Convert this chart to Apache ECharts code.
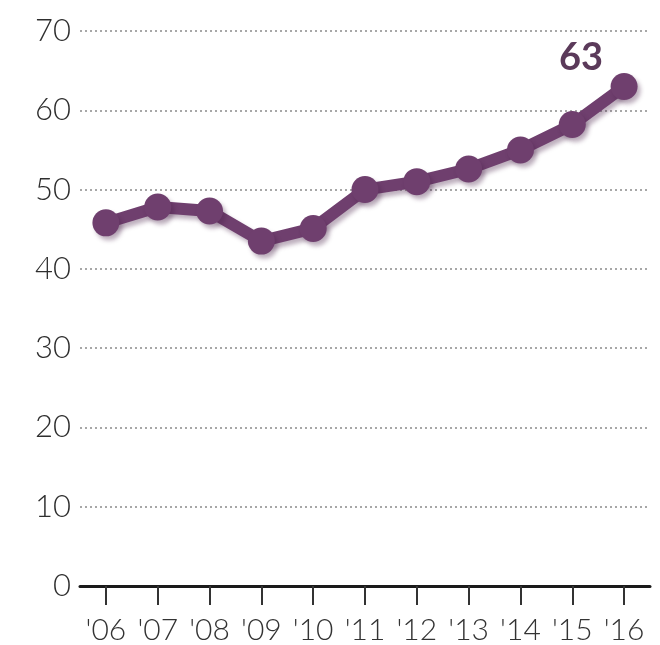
<!DOCTYPE html>
<html>
<head>
<meta charset="utf-8">
<script src="https://cdn.jsdelivr.net/npm/echarts@6/dist/echarts.min.js"></script>
<style>
html,body{margin:0;padding:0;background:#fff;}
#chart{width:660px;height:645px;}
</style>
</head>
<body>
<div id="chart"></div>
<script>
const categories = ["'06","'07","'08","'09","'10","'11","'12","'13","'14","'15","'16"];
const values = [45.8, 47.8, 47.3, 43.5, 45.1, 50.0, 51.0, 52.6, 55.0, 58.2, 63.0];
const yTicks = [0, 10, 20, 30, 40, 50, 60, 70];

const chart = echarts.init(document.getElementById('chart'));
const lineColor = '#6f3f6e';
const shadow = { shadowColor: 'rgba(70,30,70,0.35)', shadowOffsetX: 3, shadowOffsetY: 4, shadowBlur: 4 };
chart.setOption({
  animation: false,
  backgroundColor: '#ffffff',
  grid: { left: 80, width: 570, top: 31, bottom: 59 },
  xAxis: {
    type: 'category',
    data: categories,
    boundaryGap: true,
    axisLine: { show: true, lineStyle: { color: '#1a1a1a', width: 3 } },
    axisTick: { show: true, alignWithLabel: true, length: 19, lineStyle: { color: '#333', width: 2 } },
    axisLabel: { color: '#333', fontSize: 30, fontWeight: 300, fontFamily: 'Lato', margin: 29, interval: 0 }
  },
  yAxis: {
    type: 'value',
    min: yTicks[0],
    max: yTicks[yTicks.length - 1],
    interval: 10,
    axisLine: { show: false },
    axisTick: { show: false },
    axisLabel: { color: '#2e2e2e', fontSize: 31, fontWeight: 300, fontFamily: 'Lato', margin: 9 },
    splitLine: { show: true, lineStyle: { color: '#8a8a8a', type: [2, 3], width: 1.5 } }
  },
  series: [{
    type: 'line',
    data: values,
    symbol: 'circle',
    symbolSize: 27,
    lineStyle: Object.assign({ color: lineColor, width: 12 }, shadow),
    itemStyle: Object.assign({ color: lineColor }, shadow),
    label: {
      show: true,
      formatter: function (p) { return p.dataIndex === values.length - 1 ? Math.round(p.value) : ''; },
      position: 'top',
      offset: [-43, 9],
      color: '#5b3a5a',
      fontSize: 38,
      fontWeight: 'bold',
      fontFamily: 'Lato'
    },
    z: 5
  }]
});
</script>
</body>
</html>
